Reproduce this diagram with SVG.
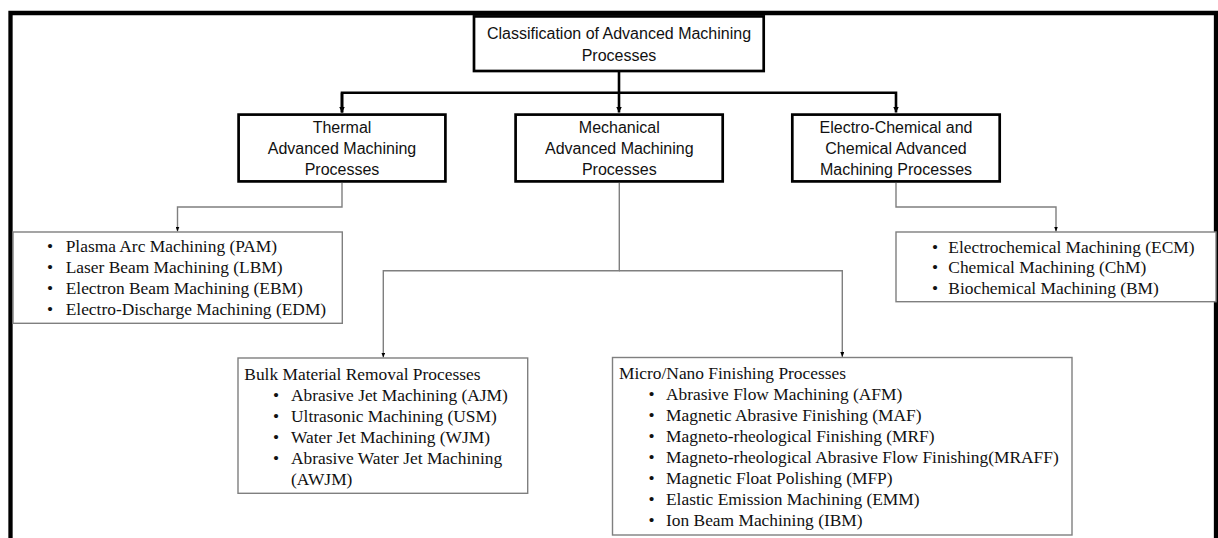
<svg xmlns="http://www.w3.org/2000/svg" width="1218" height="538" viewBox="0 0 1218 538">
  <style>
    .frame { fill: none; stroke: #000; stroke-width: 4.3; }
    .main { fill: #fff; stroke: #000; stroke-width: 2.7; }
    .sub { fill: #fff; stroke: #7f7f7f; stroke-width: 1.4; }
    .thick { fill: none; stroke: #000; stroke-width: 2.6; }
    .thin { fill: none; stroke: #7f7f7f; stroke-width: 1.4; }
    .h { font-family: "Liberation Sans", Arial, sans-serif; font-size: 16px; fill: #111; text-anchor: middle; }
    .l { font-family: "Liberation Serif", "Times New Roman", serif; font-size: 17.4px; fill: #111; }
    .b { font-family: "Liberation Serif", "Times New Roman", serif; font-size: 17.4px; fill: #111; text-anchor: middle; }
  </style>
  <defs>
    <marker id="arrBig" viewBox="0 0 6 6" refX="6" refY="3" markerWidth="6" markerHeight="6" markerUnits="userSpaceOnUse" orient="auto">
      <path d="M0,0 L6,3 L0,6 z" fill="#000"/>
    </marker>
    <marker id="arrSmall" viewBox="0 0 5 4" refX="5" refY="2" markerWidth="5" markerHeight="4" markerUnits="userSpaceOnUse" orient="auto">
      <path d="M0,0 L5,2 L0,4 z" fill="#000"/>
    </marker>
  </defs>

  <rect width="1218" height="538" fill="#fff"/>
  <path class="frame" d="M10.5,545 V13 H1216 V545"/>

  <g id="connectors">
    <path class="thick" d="M619,72 V112.5" marker-end="url(#arrBig)"/>
    <path class="thick" d="M342,112.5 V92.7 H896 V112.5" marker-end="url(#arrBig)"/>
    <path class="thick" d="M342,92.7 V112.5" marker-end="url(#arrBig)"/>
    <path class="thin" d="M342,183 V207 H177.5 V231.5" marker-end="url(#arrSmall)"/>
    <path class="thin" d="M619.3,183 V270.7 H383.3 V357.5" marker-end="url(#arrSmall)"/>
    <path class="thin" d="M619.3,270.7 H842.3 V357" marker-end="url(#arrSmall)"/>
    <path class="thin" d="M896,183 V207 H1056 V231.5" marker-end="url(#arrSmall)"/>
  </g>

  <g id="root">
    <rect class="main" x="474" y="16.4" width="289.7" height="54.6"/>
    <text class="h" x="619" y="39.3">Classification of Advanced Machining</text>
    <text class="h" x="619" y="60.7">Processes</text>
  </g>

  <g id="thermal">
    <rect class="main" x="238.6" y="114.6" width="206.8" height="66.8"/>
    <text class="h" x="342" y="132.7">Thermal</text>
    <text class="h" x="342" y="154">Advanced Machining</text>
    <text class="h" x="342" y="175.3">Processes</text>
  </g>

  <g id="mechanical">
    <rect class="main" x="515.6" y="114.6" width="207.1" height="66.8"/>
    <text class="h" x="619.3" y="132.7">Mechanical</text>
    <text class="h" x="619.3" y="154">Advanced Machining</text>
    <text class="h" x="619.3" y="175.3">Processes</text>
  </g>

  <g id="electrochemical">
    <rect class="main" x="792.3" y="114.6" width="207.4" height="66.8"/>
    <text class="h" x="896" y="132.7">Electro-Chemical and</text>
    <text class="h" x="896" y="154">Chemical Advanced</text>
    <text class="h" x="896" y="175.3">Machining Processes</text>
  </g>

  <g id="thermal-list">
    <rect class="sub" x="13" y="232" width="329.3" height="91.3"/>
    <text class="b" x="50" y="252">•</text>
    <text class="l" x="65.7" y="252">Plasma Arc Machining (PAM)</text>
    <text class="b" x="50" y="273">•</text>
    <text class="l" x="65.7" y="273">Laser Beam Machining (LBM)</text>
    <text class="b" x="50" y="294">•</text>
    <text class="l" x="65.7" y="294">Electron Beam Machining (EBM)</text>
    <text class="b" x="50" y="315">•</text>
    <text class="l" x="65.7" y="315">Electro-Discharge Machining (EDM)</text>
  </g>

  <g id="electrochemical-list">
    <rect class="sub" x="896" y="232" width="320" height="69.7"/>
    <text class="b" x="935" y="252.5">•</text>
    <text class="l" x="948.3" y="252.5">Electrochemical Machining (ECM)</text>
    <text class="b" x="935" y="273.3">•</text>
    <text class="l" x="948.3" y="273.3">Chemical Machining (ChM)</text>
    <text class="b" x="935" y="294">•</text>
    <text class="l" x="948.3" y="294">Biochemical Machining (BM)</text>
  </g>

  <g id="bulk">
    <rect class="sub" x="238" y="358" width="289.7" height="135.3"/>
    <text class="l" x="244.3" y="379.5">Bulk Material Removal Processes</text>
    <text class="b" x="276" y="400.5">•</text>
    <text class="l" x="291" y="400.5">Abrasive Jet Machining (AJM)</text>
    <text class="b" x="276" y="421.5">•</text>
    <text class="l" x="291" y="421.5">Ultrasonic Machining (USM)</text>
    <text class="b" x="276" y="442.5">•</text>
    <text class="l" x="291" y="442.5">Water Jet Machining (WJM)</text>
    <text class="b" x="276" y="463.5">•</text>
    <text class="l" x="291" y="463.5">Abrasive Water Jet Machining</text>
    <text class="l" x="291" y="484.5">(AWJM)</text>
  </g>

  <g id="micro-nano">
    <rect class="sub" x="612.5" y="357.5" width="459.5" height="177.5"/>
    <text class="l" x="619" y="379.3">Micro/Nano Finishing Processes</text>
    <text class="b" x="651.5" y="400.3">•</text>
    <text class="l" x="666" y="400.3">Abrasive Flow Machining (AFM)</text>
    <text class="b" x="651.5" y="421.3">•</text>
    <text class="l" x="666" y="421.3">Magnetic Abrasive Finishing (MAF)</text>
    <text class="b" x="651.5" y="442.3">•</text>
    <text class="l" x="666" y="442.3">Magneto-rheological Finishing (MRF)</text>
    <text class="b" x="651.5" y="463.3">•</text>
    <text class="l" x="666" y="463.3">Magneto-rheological Abrasive Flow Finishing(MRAFF)</text>
    <text class="b" x="651.5" y="484.3">•</text>
    <text class="l" x="666" y="484.3">Magnetic Float Polishing (MFP)</text>
    <text class="b" x="651.5" y="505.3">•</text>
    <text class="l" x="666" y="505.3">Elastic Emission Machining (EMM)</text>
    <text class="b" x="651.5" y="526.3">•</text>
    <text class="l" x="666" y="526.3">Ion Beam Machining (IBM)</text>
  </g>
</svg>
